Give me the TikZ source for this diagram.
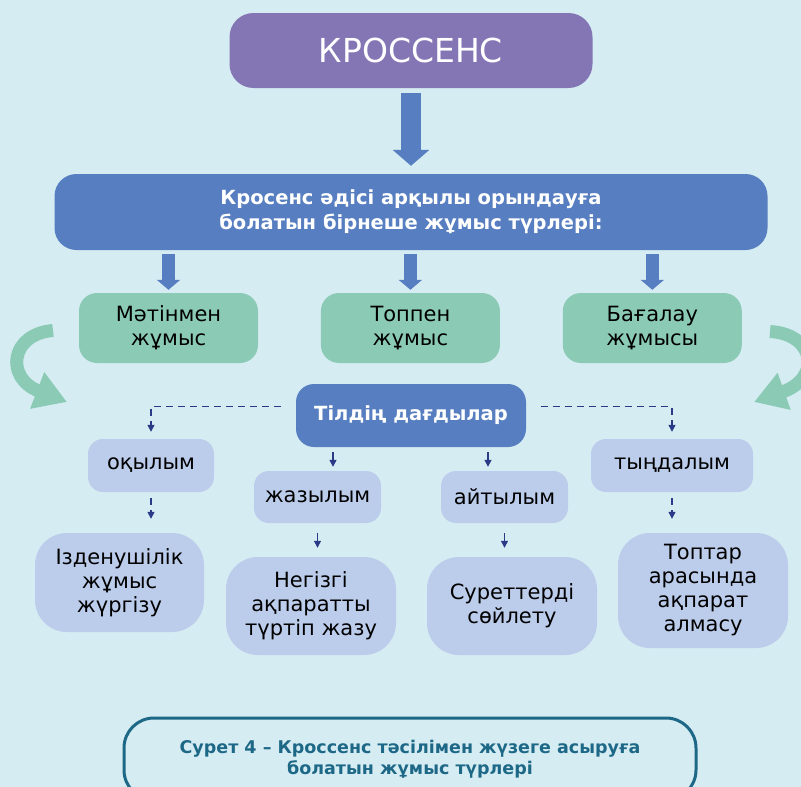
\documentclass[tikz,border=0pt]{standalone}
\usepackage{fontspec}
\setmainfont{DejaVu Sans}
\usetikzlibrary{arrows.meta,positioning}

\definecolor{bgblue}{HTML}{D6ECF3}
\definecolor{kpurple}{HTML}{8476B4}
\definecolor{kblue}{HTML}{577EC0}
\definecolor{kgreen}{HTML}{8BCBB6}
\definecolor{klilac}{HTML}{BCCCEB}
\definecolor{knavy}{HTML}{2B3A86}
\definecolor{kteal}{HTML}{1D6886}

\tikzset{
  box/.style={rounded corners=18pt, align=center, inner sep=0pt,
    font=\fontsize{21}{24}\selectfont},
  titlebox/.style={box, fill=kpurple, text=white, rounded corners=24pt,
    minimum width=363pt, minimum height=75pt, font=\fontsize{33}{38}\selectfont},
  headbox/.style={box, fill=kblue, text=white, font=\bfseries\fontsize{19.5}{25}\selectfont},
  workbox/.style={box, fill=kgreen, minimum width=179pt, minimum height=70pt},
  skillbox/.style={box, fill=klilac, rounded corners=15pt, minimum height=53pt},
  taskbox/.style={box, fill=klilac, rounded corners=32pt, minimum width=170pt},
  capbox/.style={draw=kteal, line width=3pt, rounded corners=30pt, align=center,
    text=kteal, font=\bfseries\fontsize{17.5}{21}\selectfont},
  fatarrow/.style={kblue, line width=20pt, -{Triangle[length=16pt, width=36pt]}},
  thinarrow/.style={kblue, line width=13pt, -{Triangle[length=10pt, width=23pt]}},
  link/.style={knavy, line width=1.3pt, -{Triangle[length=7pt, width=7pt]}},
  dashlink/.style={link, dash pattern=on 7pt off 5pt},
  bendarrow/.style={kgreen, line width=13pt, -{Triangle[length=32pt, width=37pt]}}
}

\begin{document}
\begin{tikzpicture}[x=1pt, y=-1pt]
\fill[bgblue] (0,0) rectangle (801,787);
\useasboundingbox (0,0) rectangle (801,787);
\clip (0,0) rectangle (801,787);

% top
\node[titlebox] (kros) at (411,50.5) {КРОССЕНС};
\node[headbox, minimum width=713pt, minimum height=76pt, rounded corners=22pt]
  (types) at (411,212) {Кросенс әдісі арқылы орындауға\\болатын бірнеше жұмыс түрлері:};
\draw[fatarrow, shorten <=5pt, shorten >=8pt] (kros.south) -- (types.north);

% work types
\node[workbox] (text) at (168.5,328) {Мәтінмен\\жұмыс};
\node[workbox, right=62.5pt of text] (group) {Топпен\\жұмыс};
\node[workbox, right=62.5pt of group] (assess) {Бағалау\\жұмысы};
\foreach \n in {text,group,assess}
  \draw[thinarrow, shorten <=4pt, shorten >=3pt] (types.south -| \n.north) -- (\n.north);

% curved arrows
\draw[bendarrow] (53,330.5) .. controls (10,334) and (5,378) .. (67,402);
\draw[bendarrow] (770,331.5) .. controls (815,334) and (822,378) .. (754,402);

% skills
\node[headbox, minimum width=230pt, minimum height=63pt] (skills) at (411,415.5) {Тілдің дағдылар};
\node[skillbox, minimum width=126pt] (reading) at (151,465.5) {оқылым};
\node[skillbox, minimum width=127pt, minimum height=52pt] (writing) at (317.5,497) {жазылым};
\node[skillbox, minimum width=127pt, minimum height=52pt] (speaking) at (504.5,497) {айтылым};
\node[skillbox, minimum width=162pt] (listening) at (672,465.5) {тыңдалым};

\draw[dashlink, shorten >=7pt] ([xshift=-15pt, yshift=9pt]skills.west) -| (reading.north);
\draw[dashlink, shorten >=7pt] ([xshift=15pt, yshift=9pt]skills.east) -| (listening.north);
\draw[link, shorten <=5pt, shorten >=4pt] ([xshift=-78pt]skills.south) -- ([xshift=-78pt]skills.south |- writing.north);
\draw[link, shorten <=5pt, shorten >=4pt] ([xshift=77pt]skills.south) -- ([xshift=77pt]skills.south |- speaking.north);

% tasks
\node[taskbox, minimum width=169pt, minimum height=99pt] (search) at (119.5,582.5) {Ізденушілік\\жұмыс\\жүргізу};
\node[taskbox, minimum height=98pt] (keynotes) at (311,606) {Негізгі\\ақпаратты\\түртіп жазу};
\node[taskbox, minimum height=98pt] (pictures) at (512,606) {Суреттерді\\сөйлету};
\node[taskbox, minimum height=115pt] (exchange) at (703,590.5) {Топтар\\арасында\\ақпарат\\алмасу};

\draw[dashlink, shorten <=6pt, shorten >=14pt] (reading.south) -- (reading.south |- search.north);
\draw[dashlink, shorten <=6pt, shorten >=14pt] (listening.south) -- (listening.south |- exchange.north);
\draw[link, shorten <=10pt, shorten >=9pt] (writing.south) -- (writing.south |- keynotes.north);
\draw[link, shorten <=10pt, shorten >=9pt] (speaking.south) -- (speaking.south |- pictures.north);

% caption
\node[capbox, minimum width=572pt, minimum height=82pt] (caption) at (410,759)
  {Сурет 4 – Кроссенс тәсілімен жүзеге асыруға\\болатын жұмыс түрлері};
\end{tikzpicture}
\end{document}
